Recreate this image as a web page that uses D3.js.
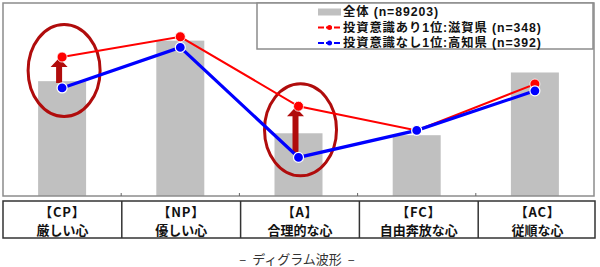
<!DOCTYPE html>
<html>
<head>
<meta charset="utf-8">
<script src="https://cdn.jsdelivr.net/npm/d3@7"></script>
<style>
  body { margin: 0; background: #fff; }
  svg { display: block; font-family: "Noto Sans CJK JP", "Noto Sans", sans-serif; }
</style>
</head>
<body>
<script>
// data
const categories = ["CP", "NP", "A", "FC", "AC"];
const catNames = ["厳しい心", "優しい心", "合理的な心", "自由奔放な心", "従順な心"];
const allValues = [11.9, 16.1, 6.5, 6.3, 12.8];      // 全体
const shigaValues = [14.4, 16.5, 9.3, 6.8, 11.6];    // 滋賀県
const kochiValues = [11.2, 15.4, 4.0, 6.8, 10.9];    // 高知県
const highlighted = ["CP", "A"];
const legendLabels = ["全体 (n=89203)", "投資意識あり1位:滋賀県 (n=348)", "投資意識なし1位:高知県 (n=392)"];
const caption = "–  ディグラム波形  –";

let width = 600, height = 267;
let plot = {left: 3, right: 594, top: 3, bottom: 196};

let svg = d3.select("body").append("svg")
  .attr("width", width)
  .attr("height", height);

let x = d3.scaleBand()
  .domain(categories)
  .range([plot.left, plot.right]);

let y = d3.scaleLinear()
  .domain([0, 20])
  .range([plot.bottom, plot.top]);

let cx = function(c) { return x(c) + x.bandwidth() / 2; };

// bars
svg.append("g").selectAll("rect")
  .data(allValues)
  .enter().append("rect")
  .attr("x", function(d, i) { return cx(categories[i]) - 24; })
  .attr("y", function(d) { return y(d); })
  .attr("width", 48)
  .attr("height", function(d) { return plot.bottom - y(d); })
  .attr("fill", "#c0c0c0");

// plot frame
svg.append("rect")
  .attr("x", plot.left).attr("y", plot.top)
  .attr("width", plot.right - plot.left)
  .attr("height", plot.bottom - plot.top)
  .attr("fill", "none")
  .attr("stroke", "#8c8c8c")
  .attr("stroke-width", 1.5);

// small ticks between categories
svg.append("g").selectAll("line")
  .data(categories.slice(1))
  .enter().append("line")
  .attr("x1", function(d) { return x(d); })
  .attr("x2", function(d) { return x(d); })
  .attr("y1", plot.bottom)
  .attr("y2", plot.bottom - 3)
  .attr("stroke", "#666");

// highlight ellipses and arrows
let hl = svg.append("g");
highlighted.forEach(function(c) {
  let i = categories.indexOf(c);
  let yr = y(shigaValues[i]), yb = y(kochiValues[i]);
  hl.append("ellipse")
    .attr("cx", cx(c) + 2)
    .attr("cy", (yr + yb) / 2 - 2)
    .attr("rx", 36)
    .attr("ry", 46)
    .attr("fill", "none")
    .attr("stroke", "#b00c0c")
    .attr("stroke-width", 3);
  let ax = cx(c) - 3;
  let tip = yr + 1, headBase = yr + 10, bottom = yb - 5;
  hl.append("path")
    .attr("d", "M" + (ax - 3) + "," + bottom + "L" + (ax - 3) + "," + headBase +
      "L" + (ax - 8.5) + "," + headBase + "L" + ax + "," + tip +
      "L" + (ax + 8.5) + "," + headBase + "L" + (ax + 3) + "," + headBase +
      "L" + (ax + 3) + "," + bottom + "Z")
    .attr("fill", "#b00c0c");
});

// lines
let line = d3.line()
  .x(function(d, i) { return cx(categories[i]); })
  .y(function(d) { return y(d); });

svg.append("path")
  .datum(shigaValues)
  .attr("d", line)
  .attr("fill", "none")
  .attr("stroke", "#ff0000")
  .attr("stroke-width", 2);

svg.append("path")
  .datum(kochiValues)
  .attr("d", line)
  .attr("fill", "none")
  .attr("stroke", "#0000ff")
  .attr("stroke-width", 3.2);

svg.append("g").selectAll("circle")
  .data(shigaValues)
  .enter().append("circle")
  .attr("cx", function(d, i) { return cx(categories[i]); })
  .attr("cy", function(d) { return y(d); })
  .attr("r", 5)
  .attr("fill", "#ff0000")
  .attr("stroke", "#fff")
  .attr("stroke-width", 0.8);

svg.append("g").selectAll("circle")
  .data(kochiValues)
  .enter().append("circle")
  .attr("cx", function(d, i) { return cx(categories[i]); })
  .attr("cy", function(d) { return y(d); })
  .attr("r", 5)
  .attr("fill", "#0000ff")
  .attr("stroke", "#fff")
  .attr("stroke-width", 1.2);

// legend
let legend = svg.append("g");
legend.append("rect")
  .attr("x", 257).attr("y", 3)
  .attr("width", 336).attr("height", 46)
  .attr("fill", "#fff")
  .attr("stroke", "#8c8c8c")
  .attr("stroke-width", 1.5);

let legendColors = ["#c0c0c0", "#ff0000", "#0000ff"];
legendLabels.forEach(function(t, i) {
  let ly = 12 + i * 15.5;
  if (i == 0) {
    legend.append("rect")
      .attr("x", 318).attr("y", ly - 3.5)
      .attr("width", 23).attr("height", 7)
      .attr("fill", legendColors[i]);
  } else {
    legend.append("line")
      .attr("x1", 318).attr("x2", 341)
      .attr("y1", ly).attr("y2", ly)
      .attr("stroke", legendColors[i])
      .attr("stroke-width", 2)
      .attr("stroke-dasharray", "6,2");
    legend.append("circle")
      .attr("cx", 329.5).attr("cy", ly).attr("r", 2.5)
      .attr("fill", legendColors[i]);
  }
  legend.append("text")
    .attr("x", 343).attr("y", ly)
    .attr("dy", "0.36em")
    .attr("font-family", "'Liberation Sans', 'Noto Sans CJK JP', sans-serif")
    .attr("font-size", 12.3)
    .attr("font-weight", "bold")
    .attr("letter-spacing", 0.9)
    .attr("fill", "#111")
    .text(t);
});

// category table
let tx = d3.scaleBand()
  .domain(categories)
  .range([3, 597]);
let table = svg.append("g");
table.append("rect")
  .attr("x", 3).attr("y", 201)
  .attr("width", 592).attr("height", 37)
  .attr("fill", "none")
  .attr("stroke", "#333")
  .attr("stroke-width", 1.5);
table.selectAll("line")
  .data(categories.slice(1))
  .enter().append("line")
  .attr("x1", function(d) { return tx(d); })
  .attr("x2", function(d) { return tx(d); })
  .attr("y1", 201).attr("y2", 238)
  .attr("stroke", "#333")
  .attr("stroke-width", 1.5);
categories.forEach(function(c, i) {
  let tcx = tx(c) + tx.bandwidth() / 2;
  table.append("text")
    .attr("x", tcx).attr("y", 212)
    .attr("dy", "0.36em")
    .attr("text-anchor", "middle")
    .attr("font-size", 13)
    .attr("font-weight", "bold")
    .attr("letter-spacing", 0.8)
    .attr("fill", "#111")
    .text("【" + c + "】");
  table.append("text")
    .attr("x", tcx).attr("y", 230)
    .attr("dy", "0.36em")
    .attr("text-anchor", "middle")
    .attr("font-size", 13)
    .attr("font-weight", "bold")
    .attr("fill", "#111")
    .text(catNames[i]);
});

svg.append("text")
  .attr("x", 297).attr("y", 259)
  .attr("dy", "0.36em")
  .attr("text-anchor", "middle")
  .attr("font-size", 13)
  .attr("fill", "#333")
  .style("white-space", "pre")
  .text(caption);
</script>
</body>
</html>
